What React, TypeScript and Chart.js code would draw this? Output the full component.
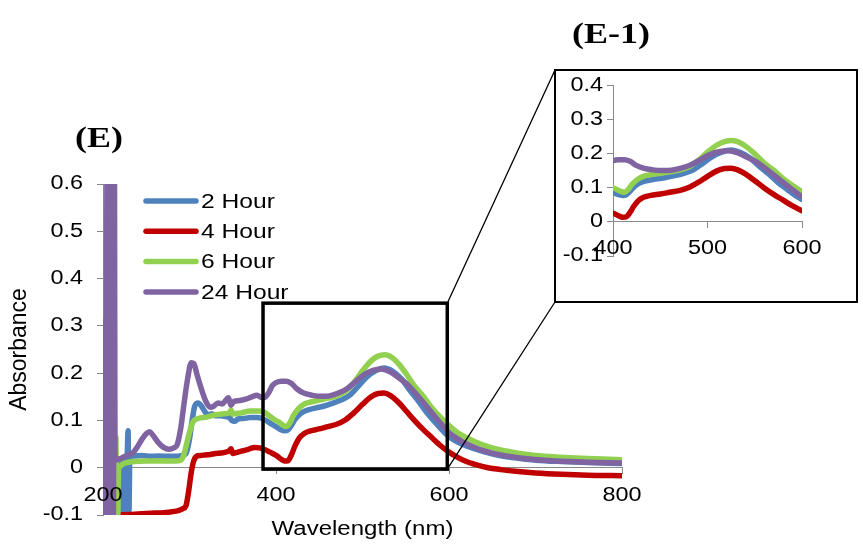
import React, { useEffect, useRef } from 'react';
import { Chart, registerables } from 'chart.js';

Chart.register(...registerables);

const seriesLabels = ['2 Hour', '4 Hour', '6 Hour', '24 Hour'];
const seriesColors = ['#4F81BD', '#C00000', '#92D050', '#8064A2'];

// 2 Hour
const wl2h = [216, 217, 218, 219, 220, 221, 222, 223, 224, 225, 226, 227, 228, 229, 230, 231, 236, 245, 255, 265, 275, 285, 291, 296, 300, 303, 306, 310, 314, 318, 322, 326, 330, 336, 342, 346, 349, 352, 356, 362, 370, 378, 384, 390, 395, 400, 405, 410, 414, 418, 422, 428, 435, 445, 455, 465, 475, 485, 495, 505, 515, 525, 535, 545, 555, 565, 575, 585, 595, 600, 610, 620, 640, 660, 680, 700, 730, 760, 800];
const abs2h = [0.0, -0.095, 0.005, -0.095, 0.008, -0.095, 0.01, -0.095, 0.012, -0.095, 0.015, -0.095, 0.02, 0.078, -0.095, 0.022, 0.025, 0.026, 0.024, 0.025, 0.024, 0.024, 0.026, 0.03, 0.06, 0.1, 0.13, 0.137, 0.13, 0.118, 0.112, 0.114, 0.11, 0.11, 0.108, 0.106, 0.1, 0.098, 0.103, 0.104, 0.106, 0.106, 0.104, 0.098, 0.092, 0.087, 0.081, 0.078, 0.08, 0.09, 0.102, 0.114, 0.121, 0.126, 0.13, 0.136, 0.143, 0.153, 0.172, 0.192, 0.205, 0.211, 0.204, 0.188, 0.163, 0.14, 0.115, 0.094, 0.074, 0.066, 0.054, 0.046, 0.034, 0.025, 0.02, 0.016, 0.013, 0.011, 0.009];

// 4 Hour
const wl4h = [214, 220, 230, 240, 250, 260, 270, 280, 288, 292, 296, 299, 302, 305, 309, 313, 318, 324, 330, 336, 342, 346, 348, 350, 354, 360, 368, 375, 381, 386, 391, 396, 401, 406, 410, 414, 418, 422, 427, 433, 440, 450, 460, 470, 480, 490, 500, 510, 518, 525, 532, 540, 550, 560, 570, 580, 590, 600, 610, 620, 630, 645, 660, 680, 700, 730, 760, 800];
const abs4h = [-0.105, -0.1, -0.099, -0.098, -0.097, -0.096, -0.095, -0.093, -0.09, -0.087, -0.08, -0.05, -0.01, 0.015, 0.025, 0.026, 0.027, 0.028, 0.03, 0.031, 0.033, 0.036, 0.04, 0.03, 0.032, 0.035, 0.039, 0.043, 0.042, 0.039, 0.035, 0.03, 0.025, 0.018, 0.014, 0.015, 0.028, 0.046, 0.063, 0.073, 0.078, 0.082, 0.087, 0.092, 0.101, 0.116, 0.134, 0.15, 0.157, 0.158, 0.153, 0.141, 0.121, 0.1, 0.081, 0.064, 0.047, 0.033, 0.022, 0.013, 0.007, 0.0, -0.004, -0.008, -0.011, -0.014, -0.016, -0.017];

// 6 Hour
const wl6h = [215, 216, 217, 218, 220, 223, 228, 235, 250, 265, 280, 289, 293, 296, 300, 304, 310, 320, 330, 340, 346, 348, 350, 352, 360, 370, 380, 386, 392, 398, 403, 408, 412, 416, 420, 426, 432, 440, 450, 460, 470, 480, 490, 500, 510, 518, 526, 534, 542, 550, 560, 570, 580, 590, 600, 610, 620, 630, 650, 670, 690, 710, 740, 770, 800];
const abs6h = [0.064, -0.11, -0.11, -0.003, 0.003, 0.008, 0.011, 0.013, 0.014, 0.014, 0.014, 0.015, 0.025, 0.045, 0.075, 0.097, 0.104, 0.107, 0.112, 0.114, 0.116, 0.122, 0.113, 0.114, 0.116, 0.12, 0.12, 0.118, 0.11, 0.102, 0.097, 0.09, 0.087, 0.095, 0.11, 0.125, 0.134, 0.139, 0.143, 0.147, 0.152, 0.161, 0.18, 0.205, 0.226, 0.236, 0.239, 0.233, 0.219, 0.2, 0.173, 0.152, 0.127, 0.107, 0.089, 0.074, 0.064, 0.055, 0.042, 0.034, 0.028, 0.024, 0.021, 0.019, 0.017];

// 24 Hour
const wl24h = [200, 201, 202, 203, 204, 205, 206, 207, 208, 209, 210, 211, 212, 213, 214, 218, 223, 229, 235, 240, 245, 250, 254, 258, 264, 270, 276, 282, 286, 290, 294, 298, 302, 305, 309, 314, 319, 324, 328, 333, 338, 342, 345, 348, 351, 358, 365, 372, 378, 384, 388, 392, 396, 400, 406, 412, 418, 424, 432, 442, 452, 462, 472, 482, 492, 502, 512, 522, 532, 542, 552, 562, 572, 582, 592, 600, 610, 620, 635, 650, 670, 690, 710, 740, 770, 800];
const abs24h = [0.31, -0.11, 0.31, -0.11, 0.31, 0.8, -0.11, 0.8, -0.11, 0.8, -0.11, 0.8, -0.11, 0.8, 0.016, 0.018, 0.022, 0.027, 0.032, 0.045, 0.06, 0.072, 0.076, 0.068, 0.053, 0.043, 0.039, 0.042, 0.05, 0.085, 0.14, 0.19, 0.222, 0.22, 0.195, 0.165, 0.14, 0.128, 0.13, 0.137, 0.135, 0.143, 0.148, 0.132, 0.14, 0.142, 0.145, 0.15, 0.153, 0.148, 0.15, 0.16, 0.174, 0.18, 0.183, 0.183, 0.178, 0.167, 0.158, 0.153, 0.151, 0.152, 0.158, 0.167, 0.182, 0.197, 0.206, 0.209, 0.203, 0.19, 0.176, 0.156, 0.134, 0.112, 0.09, 0.074, 0.061, 0.051, 0.039, 0.031, 0.024, 0.019, 0.016, 0.013, 0.011, 0.01];

const seriesX = [wl2h, wl4h, wl6h, wl24h];
const seriesY = [abs2h, abs4h, abs6h, abs24h];

// axis ranges
const mainXRange = [200, 800];
const mainYRange = [-0.1, 0.6];
const insetXRange = [400, 600];
const insetYRange = [-0.1, 0.4];
// zoomed region (data units)
const zoomBox = { x0: 385, x1: 598, y0: -0.003, y1: 0.348 };

const FONT = "'Liberation Sans', Arial, Helvetica, sans-serif";
const AXIS_GREY = '#898989';
const INSET_BOX = { left: 555, top: 70, right: 857, bottom: 302 };
const TEXT_STRETCH = 1.2;

Chart.defaults.font.family = FONT;
Chart.defaults.color = '#000';

function fmtY(v: any) {
  const n = Math.round(Number(v) * 10) / 10;
  return n === 0 ? '0' : n.toFixed(1);
}

function makeDatasets() {
  return seriesLabels.map((label, i) => ({
    label,
    data: seriesX[i].map((x, j) => ({ x, y: seriesY[i][j] })),
    borderColor: seriesColors[i],
    backgroundColor: seriesColors[i],
    borderWidth: 5.5,
    pointRadius: 0,
    fill: false,
    cubicInterpolationMode: 'monotone' as const,
    borderCapStyle: 'round' as const,
    borderJoinStyle: 'round' as const,
    order: 4 - i,
  }));
}

// horizontal text is slightly wide in the original; stretch unrotated text around its anchor
const stretchTextPlugin = {
  id: 'stretchText',
  beforeInit(chart: any) {
    const ctx = chart.ctx;
    if (ctx.__stretched) return;
    const orig = ctx.fillText.bind(ctx);
    ctx.fillText = (text: string, x: number, y: number, maxWidth?: number) => {
      const t = ctx.getTransform();
      if (Math.abs(t.b) < 1e-6 && Math.abs(t.c) < 1e-6) {
        ctx.save();
        ctx.translate(x, y);
        ctx.scale(TEXT_STRETCH, 1);
        if (maxWidth === undefined || maxWidth === null) orig(text, 0, 0);
        else orig(text, 0, 0, maxWidth / TEXT_STRETCH);
        ctx.restore();
      } else if (maxWidth === undefined || maxWidth === null) {
        orig(text, x, y);
      } else {
        orig(text, x, y, maxWidth);
      }
    };
    ctx.__stretched = true;
  },
};

const overlayPlugin = {
  id: 'overlay',
  afterDatasetsDraw(chart: any) {
    const { ctx } = chart;
    const xs = chart.scales.x;
    const ys = chart.scales.y;
    const x0 = xs.getPixelForValue(zoomBox.x0);
    const x1 = xs.getPixelForValue(zoomBox.x1);
    const yTop = ys.getPixelForValue(zoomBox.y1);
    const yBot = ys.getPixelForValue(zoomBox.y0);
    ctx.save();
    ctx.strokeStyle = '#000';
    ctx.lineWidth = 3.5;
    ctx.lineJoin = 'miter';
    ctx.strokeRect(x0, yTop, x1 - x0, yBot - yTop);
    ctx.lineWidth = 1.3;
    ctx.beginPath();
    ctx.moveTo(x1, yTop);
    ctx.lineTo(INSET_BOX.left, INSET_BOX.top);
    ctx.moveTo(x1, yBot);
    ctx.lineTo(INSET_BOX.left, INSET_BOX.bottom);
    ctx.stroke();
    ctx.lineWidth = 2;
    ctx.strokeRect(INSET_BOX.left, INSET_BOX.top, INSET_BOX.right - INSET_BOX.left, INSET_BOX.bottom - INSET_BOX.top);
    ctx.restore();
  },
  afterDraw(chart: any) {
    const { ctx } = chart;
    ctx.save();
    ctx.font = `20.5px ${FONT}`;
    ctx.textBaseline = 'middle';
    ctx.textAlign = 'left';
    seriesLabels.forEach((label, i) => {
      const y = 201 + i * 30.3;
      ctx.strokeStyle = seriesColors[i];
      ctx.lineWidth = 5.5;
      ctx.lineCap = 'round';
      ctx.beginPath();
      ctx.moveTo(146, y);
      ctx.lineTo(196, y);
      ctx.stroke();
      ctx.fillStyle = '#000';
      ctx.fillText(label, 201, y + 1);
    });
    ctx.restore();
  },
};

export default function App() {
  const mainRef = useRef<HTMLCanvasElement>(null);
  const insetRef = useRef<HTMLCanvasElement>(null);

  useEffect(() => {
    if (!mainRef.current || !insetRef.current) return;
    const main = new Chart(mainRef.current, {
      type: 'line',
      data: { datasets: makeDatasets() as any },
      options: {
        responsive: false,
        animation: false,
        devicePixelRatio: 1,
        layout: { padding: { left: 0, top: 184, right: 241, bottom: 38 } },
        plugins: { legend: { display: false }, tooltip: { enabled: false } },
        scales: {
          x: {
            type: 'linear',
            min: mainXRange[0],
            max: mainXRange[1],
            position: { y: 0 } as any,
            ticks: { stepSize: 200, padding: 10, color: '#000', font: { size: 19.5 }, z: 1, autoSkip: false, maxRotation: 0, callback: (v: any) => String(v) },
            grid: { drawOnChartArea: false, drawTicks: true, tickLength: 6, tickColor: AXIS_GREY, tickWidth: 1 },
            border: { display: true, color: AXIS_GREY, width: 1 },
            title: { display: true, text: 'Wavelength (nm)', color: '#000', font: { size: 20 }, padding: { top: 0, bottom: 3 } },
          },
          y: {
            type: 'linear',
            min: mainYRange[0],
            max: mainYRange[1],
            ticks: { stepSize: 0.1, padding: 14, color: '#000', font: { size: 19.5 }, callback: fmtY },
            grid: { drawOnChartArea: false, drawTicks: true, tickLength: 6, tickColor: AXIS_GREY, tickWidth: 1 },
            border: { display: true, color: AXIS_GREY, width: 1 },
            title: { display: true, text: 'Absorbance', color: '#000', font: { size: 23 }, padding: { top: 6, bottom: 0 } },
            afterFit: (s: any) => { s.width = 103; },
          },
        },
      },
      plugins: [stretchTextPlugin, overlayPlugin],
    });

    const inset = new Chart(insetRef.current, {
      type: 'line',
      data: { datasets: makeDatasets() as any },
      options: {
        responsive: false,
        animation: false,
        devicePixelRatio: 1,
        layout: { padding: { left: 0, top: 11, right: 54, bottom: 45 } },
        plugins: { legend: { display: false }, tooltip: { enabled: false } },
        scales: {
          x: {
            type: 'linear',
            min: insetXRange[0],
            max: insetXRange[1],
            position: { y: 0 } as any,
            ticks: { stepSize: 100, padding: 9, color: '#000', font: { size: 19.5 }, z: 1, autoSkip: false, maxRotation: 0, callback: (v: any) => String(v) },
            grid: { drawOnChartArea: false, drawTicks: true, tickLength: 6, tickColor: AXIS_GREY, tickWidth: 1 },
            border: { display: true, color: AXIS_GREY, width: 1 },
          },
          y: {
            type: 'linear',
            min: insetYRange[0],
            max: insetYRange[1],
            ticks: { stepSize: 0.1, padding: 4, color: '#000', font: { size: 19.5, lineHeight: 1 }, callback: fmtY },
            grid: { drawOnChartArea: false, drawTicks: true, tickLength: 6, tickColor: AXIS_GREY, tickWidth: 1 },
            border: { display: true, color: AXIS_GREY, width: 1 },
            afterFit: (s: any) => { s.width = 56; },
          },
        },
      },
      plugins: [stretchTextPlugin],
    });

    return () => {
      main.destroy();
      inset.destroy();
    };
  }, []);

  const titleStyle: React.CSSProperties = {
    position: 'absolute',
    fontFamily: "'Liberation Serif', 'Times New Roman', serif",
    fontWeight: 'bold',
    fontSize: 30,
    lineHeight: '30px',
    textAlign: 'center',
    color: '#000',
    whiteSpace: 'nowrap',
    width: 120,
    transform: `scaleX(${TEXT_STRETCH})`,
    transformOrigin: '50% 50%',
  };

  return (
    <div style={{ position: 'absolute', left: 0, top: 0, width: 863, height: 553, background: '#fff', overflow: 'hidden' }}>
      <canvas ref={mainRef} width={863} height={553} style={{ position: 'absolute', left: 0, top: 0, width: 863, height: 553 }} />
      <canvas ref={insetRef} width={299} height={229} style={{ position: 'absolute', left: 557, top: 72, width: 299, height: 229 }} />
      <div style={{ ...titleStyle, left: 99 - 60, top: 122 }}>(E)</div>
      <div style={{ ...titleStyle, left: 611 - 60, top: 18 }}>(E-1)</div>
    </div>
  );
}
